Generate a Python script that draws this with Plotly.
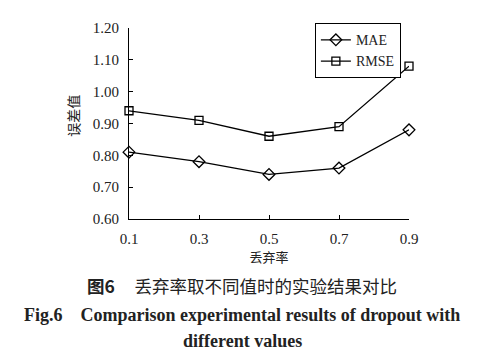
import plotly.graph_objects as go

x_vals = [0.1, 0.3, 0.5, 0.7, 0.9]
x_labels = ["0.1", "0.3", "0.5", "0.7", "0.9"]
mae = [0.81, 0.78, 0.74, 0.76, 0.88]
rmse = [0.94, 0.91, 0.86, 0.89, 1.08]
y_ticks = [0.60, 0.70, 0.80, 0.90, 1.00, 1.10, 1.20]

serif = "Liberation Serif, Times New Roman, serif"
cjk = "Noto Sans CJK SC"

fig = go.Figure()
fig.add_trace(go.Scatter(x=x_vals, y=mae, name="MAE", mode="lines+markers",
                         line=dict(color="black", width=1.3),
                         marker=dict(symbol="diamond-open", size=9, color="black", line=dict(width=1.3)),
                         cliponaxis=False))
fig.add_trace(go.Scatter(x=x_vals, y=rmse, name="RMSE", mode="lines+markers",
                         line=dict(color="black", width=1.3),
                         marker=dict(symbol="square-open", size=8, color="black", line=dict(width=1.3)),
                         cliponaxis=False))

fig.update_layout(
    width=494, height=363,
    margin=dict(l=121, r=93, t=13, b=152),
    paper_bgcolor="white", plot_bgcolor="white",
    font=dict(family=serif, size=14, color="#222"),
    showlegend=True,
    legend=dict(x=0.971, y=1.025, xanchor="right", yanchor="top",
                bordercolor="black", borderwidth=1, bgcolor="white",
                font=dict(family=serif, size=14, color="#222"),
                itemwidth=30, tracegroupgap=0),
    xaxis=dict(range=[0.1, 0.9], tickvals=x_vals, ticktext=x_labels,
               showline=True, linecolor="black", linewidth=1.2,
               ticks="inside", ticklen=4, tickcolor="black",
               showgrid=False, zeroline=False, ticklabelstandoff=6,
               tickfont=dict(family=serif, size=15, color="#222"),
               title=dict(text="丢弃率", font=dict(family=cjk, size=13, color="#222"), standoff=4)),
    yaxis=dict(range=[0.60, 1.20], tickvals=y_ticks, tickformat=".2f",
               showline=True, linecolor="black", linewidth=1.2,
               ticks="inside", ticklen=4, tickcolor="black",
               showgrid=False, zeroline=False, ticklabelstandoff=6,
               tickfont=dict(family=serif, size=15, color="#222")),
)

fig.add_annotation(text="误差值", xref="paper", yref="paper", x=-0.2, y=0.54,
                   xanchor="center", yanchor="middle", textangle=-90, showarrow=False,
                   font=dict(family=cjk, size=14, color="#222"))
fig.add_annotation(text="<b>图6</b>  <span> </span>  丢弃率取不同值时的实验结果对比", xref="paper", yref="paper",
                   x=0.404, y=-0.348, xanchor="center", yanchor="middle", showarrow=False,
                   font=dict(family=cjk, size=17.5, color="#222"))
fig.add_annotation(text="<b>Fig.6    Comparison experimental results of dropout with</b>", xref="paper", yref="paper",
                   x=0.404, y=-0.5, xanchor="center", yanchor="middle", showarrow=False,
                   font=dict(family=serif, size=18, color="#222"))
fig.add_annotation(text="<b>different values</b>", xref="paper", yref="paper",
                   x=0.404, y=-0.641, xanchor="center", yanchor="middle", showarrow=False,
                   font=dict(family=serif, size=18, color="#222"))

fig.write_html("out.html")
